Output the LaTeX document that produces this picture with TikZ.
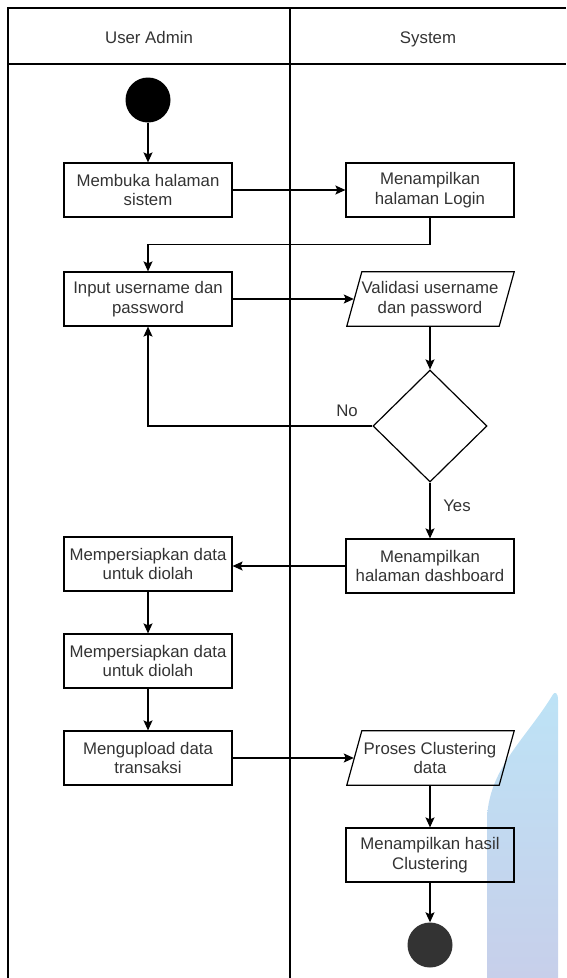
\documentclass[tikz,border=0pt]{standalone}
\usepackage{fontspec}
\setmainfont{Liberation Sans}
\usetikzlibrary{arrows.meta,shapes.geometric,calc}
\definecolor{txt}{HTML}{333333}
\definecolor{wmtop}{HTML}{BDE3F6}
\definecolor{wmbot}{HTML}{C7CFEA}
\tikzset{
  lane/.style={line width=1.3pt, draw=black},
  act/.style={draw=black, line width=1.2pt, minimum width=168pt, minimum height=54pt,
    align=center, text=txt, font=\fontsize{16.8}{19.5}\selectfont, inner sep=0pt},
  iolabel/.style={minimum width=168pt, minimum height=54pt,
    align=center, text=txt, font=\fontsize{16.8}{19.5}\selectfont, inner sep=0pt},
  dec/.style={diamond, draw=black, line width=1.2pt, minimum width=114pt, minimum height=112pt, aspect=1, inner sep=0pt},
  startnode/.style={circle, fill=black, minimum size=45pt, inner sep=0pt},
  endnode/.style={circle, fill=black!80, minimum size=45pt, inner sep=0pt},
  arr/.style={line width=1.2pt, -{Stealth[length=10pt,width=9pt,inset=2pt]}},
  lbl/.style={text=txt, font=\fontsize{16.8}{19.5}\selectfont},
  hdr/.style={text=txt, font=\fontsize{16.8}{19.5}\selectfont, anchor=base}
}
\begin{document}
\begin{tikzpicture}[x=1pt,y=-1pt]
\useasboundingbox (0,0) rectangle (566,978);
% watermark shape
\shade[top color=wmtop, bottom color=wmbot]
  (558,978) -- (558,700) .. controls (558,693) and (555,690) .. (552,696)
  .. controls (525,740) and (487,770) .. (487,822) -- (487,978) -- cycle;
% swimlanes
\draw[lane] (8,978) -- (8,8) -- (566,8);
\draw[lane] (8,64) -- (566,64);
\draw[lane] (290,8) -- (290,978);
\node[hdr] (h1) at (149,43) {User Admin};
\node[hdr] (h2) at (428,43) {System};
% nodes
\node[startnode] (s) at (148,100) {};
\node[act] (b1) at (148,190) {Membuka halaman\\sistem};
\node[act] (b2) at (430,190) {Menampilkan\\halaman Login};
\node[act] (b3) at (148,299) {Input username dan\\password};
\node[iolabel] (v) at (430,299) {Validasi username\\dan password};
\draw[line width=1.2pt] ($(v.south west)+(1,0)$) -- ($(v.north west)+(16,0)$) -- ($(v.north east)+(0,0)$) -- ($(v.south east)+(-15,0)$) -- cycle;
\node[dec] (d) at (430,426) {};
\node[act] (b4) at (430,566) {Menampilkan\\halaman dashboard};
\node[act] (b5) at (148,564) {Mempersiapkan data\\untuk diolah};
\node[act] (b6) at (148,661) {Mempersiapkan data\\untuk diolah};
\node[act] (b7) at (148,758) {Mengupload data\\transaksi};
\node[iolabel] (p) at (430,758) {Proses Clustering\\data};
\draw[line width=1.2pt] ($(p.south west)+(1,0)$) -- ($(p.north west)+(16,0)$) -- ($(p.north east)+(0,0)$) -- ($(p.south east)+(-15,0)$) -- cycle;
\node[act] (b8) at (430,855) {Menampilkan hasil\\Clustering};
\node[endnode] (e) at (430,945) {};
% connectors
\draw[arr] (s) -- (b1);
\draw[arr] (b1) -- (b2);
\draw[arr] (b2.south) -- ++(0,27) -| (b3.north);
\draw[arr] (b3.east) -- ($(v.west)+(8,0)$);
\draw[arr] (v.south) -- (d.north);
\draw[arr] (d.west) -| (b3.south);
\node[lbl] (no) at (347,411) {No};
\draw[arr] (d.south) -- (b4.north);
\node[lbl] (yes) at (457,506) {Yes};
\draw[arr] (b4.west) -- (b5.east |- b4.west);
\draw[arr] (b5) -- (b6);
\draw[arr] (b6) -- (b7);
\draw[arr] (b7.east) -- ($(p.west)+(8,0)$);
\draw[arr] (p.south) -- (b8.north);
\draw[arr] (b8) -- (e);
\end{tikzpicture}
\end{document}
